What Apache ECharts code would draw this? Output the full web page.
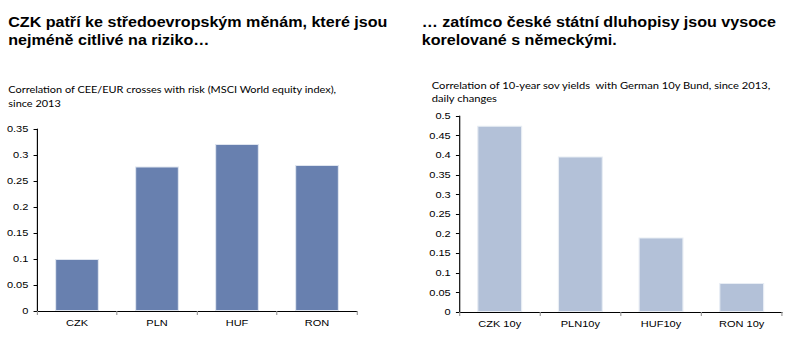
<!DOCTYPE html>
<html>
<head>
<meta charset="utf-8">
<script src="https://cdn.jsdelivr.net/npm/echarts@6/dist/echarts.min.js"></script>
<style>
html,body{margin:0;padding:0;background:#fff;overflow:hidden;}
#wrap{width:794px;height:352px;overflow:hidden;}
#c{width:690px;height:352px;transform-origin:0 0;transform:scaleX(1.15072);}
</style>
</head>
<body>
<div id="wrap"><div id="c"></div></div>
<script>
const leftTitle = "CZK patří ke středoevropským měnám, které jsou\nnejméně citlivé na riziko…";
const leftSubtitle = "Correlation of CEE/EUR crosses with risk (MSCI World equity index),\nsince 2013";
const rightTitle = "… zatímco české státní dluhopisy jsou vysoce\nkorelované s německými.";
const rightSubtitle = "Correlation of 10-year sov yields  with German 10y Bund, since 2013,\ndaily changes";

const fxCategories = ["CZK", "PLN", "HUF", "RON"];
const fxValues = [0.10, 0.278, 0.321, 0.281];

const bondCategories = ["CZK 10y", "PLN10y", "HUF10y", "RON 10y"];
const bondValues = [0.475, 0.397, 0.19, 0.074];

const chart = echarts.init(document.getElementById('c'), null, {renderer: 'svg'});
const titleStyle = {fontFamily: 'Liberation Sans, Arial', fontSize: 14, fontWeight: 'bold', color: '#000', lineHeight: 18};
const subStyleL = {fontFamily: 'Lato', fontSize: 9.5, fontWeight: 'normal', color: '#000', lineHeight: 13.4};
const subStyleR = {fontFamily: 'Lato', fontSize: 9.7, fontWeight: 'normal', color: '#000', lineHeight: 13.4};
const axisLab = {fontFamily: 'Liberation Sans, Arial', fontSize: 9.6, color: '#000'};

function yAxis(idx, max) {
  return {
    type: 'value', gridIndex: idx, min: 0, max: max, interval: 0.05,
    axisLine: {show: true, lineStyle: {color: '#000', width: 1}},
    axisTick: {show: true, length: 3, lineStyle: {color: '#000'}},
    splitLine: {show: false},
    axisLabel: Object.assign({margin: 7.5, formatter: v => String(+v.toFixed(2))}, axisLab)
  };
}
function xAxis(idx, cats) {
  return {
    type: 'category', gridIndex: idx, data: cats,
    axisLine: {lineStyle: {color: '#000', width: 1}},
    axisTick: {show: true, length: 4, lineStyle: {color: '#999'}},
    axisLabel: Object.assign({margin: 7}, axisLab)
  };
}

chart.setOption({
  animation: false,
  backgroundColor: '#fff',
  title: [
    {text: leftTitle, left: 7.1, top: 13, textStyle: titleStyle, padding: 0},
    {text: leftSubtitle, left: 7.2, top: 83, textStyle: subStyleL, padding: 0},
    {text: rightTitle, left: 366.5, top: 13, textStyle: titleStyle, padding: 0},
    {text: rightSubtitle, left: 375.2, top: 78.5, textStyle: subStyleR, padding: 0}
  ],
  grid: [
    {left: 32.15, right: 379.75, top: 129, bottom: 41},
    {left: 399.2, right: 10.4, top: 116, bottom: 40}
  ],
  xAxis: [xAxis(0, fxCategories), xAxis(1, bondCategories)],
  yAxis: [yAxis(0, 0.35), yAxis(1, 0.5)],
  series: [
    {type: 'bar', xAxisIndex: 0, yAxisIndex: 0, data: fxValues, barWidth: 38.2,
     itemStyle: {color: '#6880AF', borderColor: '#dfe5ef', borderWidth: 1}},
    {type: 'bar', xAxisIndex: 1, yAxisIndex: 1, data: bondValues, barWidth: 39.1,
     itemStyle: {color: '#B3C1D8', borderColor: '#e8edf4', borderWidth: 1}}
  ]
});
</script>
</body>
</html>
